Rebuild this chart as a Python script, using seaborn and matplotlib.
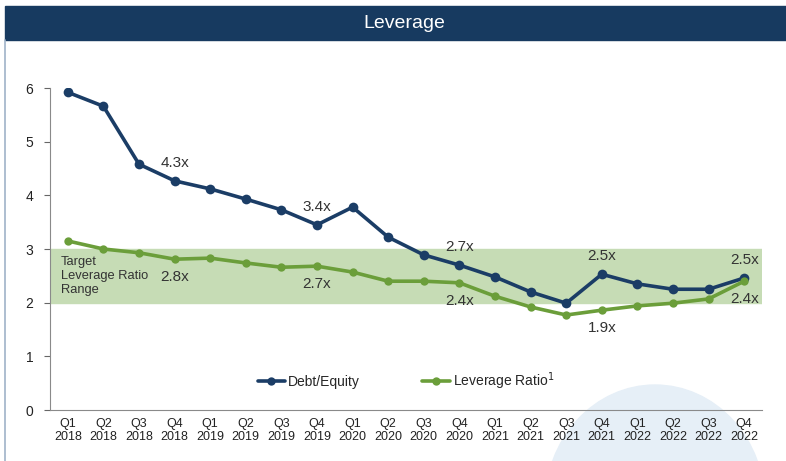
import pandas as pd
import numpy as np
import matplotlib.pyplot as plt
import seaborn as sns
from matplotlib.patches import Rectangle, Ellipse

quarters = ['Q1\n2018', 'Q2\n2018', 'Q3\n2018', 'Q4\n2018',
            'Q1\n2019', 'Q2\n2019', 'Q3\n2019', 'Q4\n2019',
            'Q1\n2020', 'Q2\n2020', 'Q3\n2020', 'Q4\n2020',
            'Q1\n2021', 'Q2\n2021', 'Q3\n2021', 'Q4\n2021',
            'Q1\n2022', 'Q2\n2022', 'Q3\n2022', 'Q4\n2022']
debt_equity = [5.92, 5.66, 4.58, 4.27, 4.12, 3.93, 3.73, 3.45, 3.78, 3.22,
               2.89, 2.70, 2.48, 2.20, 1.99, 2.53, 2.35, 2.25, 2.25, 2.46]
leverage = [3.15, 3.00, 2.93, 2.81, 2.83, 2.74, 2.66, 2.68, 2.57, 2.40,
            2.40, 2.37, 2.12, 1.92, 1.77, 1.86, 1.94, 1.99, 2.07, 2.40]
target_low, target_high = 2, 3

# labels: (index, text) above debt/equity, below leverage ratio
de_labels = [(3, '4.3x'), (7, '3.4x'), (11, '2.7x'), (15, '2.5x'), (19, '2.5x')]
lr_labels = [(3, '2.8x'), (7, '2.7x'), (11, '2.4x'), (15, '1.9x'), (19, '2.4x')]

navy = '#1b3d66'
green = '#6b9e3a'
band = '#c6dcb5'

sns.set_style('white')
plt.rcParams['font.family'] = ['Liberation Sans', 'DejaVu Sans']

fig = plt.figure(figsize=(7.86, 4.61), dpi=100)
W, H = 786, 461

# decorative background
fig.patches.append(Ellipse((655 / W, 1 - 505 / H), 220 / W, 240 / H,
                           transform=fig.transFigure, color='#e6eff7', zorder=-2))
fig.patches.append(Rectangle((5 / W, 1 - 40 / H), 1 - 5 / W, 34 / H,
                             transform=fig.transFigure, color='#173a60', zorder=1))
fig.lines.append(plt.Line2D([5 / W, 5 / W], [0, 1 - 40 / H], transform=fig.transFigure,
                            color='#9fb3c8', lw=1.2))
fig.text(404 / W, 1 - 23 / H, 'Leverage', color='white', ha='center', va='center', fontsize=14)

ax = fig.add_axes([50 / W, 1 - 410 / H, 712 / W, 322 / H])
ax.set_facecolor('none')
ax.set_zorder(2)

df = pd.DataFrame({'x': np.arange(len(quarters)), 'Debt/Equity': debt_equity,
                   'Leverage Ratio$^1$': leverage})
long = df.melt(id_vars='x', var_name='series', value_name='value')

ax.axhspan(target_low, target_high, color=band, zorder=0)
sns.lineplot(data=long, x='x', y='value', hue='series', palette=[navy, green],
             marker='o', markeredgewidth=0, linewidth=2.6, ax=ax, zorder=3)
for l, ms in zip(ax.lines, [7, 6]):
    l.set_markersize(ms)

for i, t in de_labels:
    ax.annotate(t, (i, debt_equity[i]), xytext=(0, 8), textcoords='offset points',
                ha='center', va='bottom', fontsize=11, color='#333333')
for i, t in lr_labels:
    ax.annotate(t, (i, leverage[i]), xytext=(0, -8), textcoords='offset points',
                ha='center', va='top', fontsize=11, color='#333333')

ax.text(-0.2, 2.5, 'Target\nLeverage Ratio\nRange', ha='left', va='center',
        fontsize=9.3, color='#333333', linespacing=1.25)

ax.set_xlim(-0.5, len(quarters) - 0.5)
ax.set_ylim(0, 6)
ax.set_xticks(np.arange(len(quarters)))
ax.set_xticklabels(quarters, fontsize=9, color='#222222', linespacing=1.1)
ax.set_xticks(np.arange(len(quarters) + 1) - 0.5, minor=True)
ax.tick_params(axis='x', which='major', length=0, pad=6)
ax.tick_params(axis='x', which='minor', length=4, color='#666666', direction='out')
ax.set_yticks(range(0, 7))
ax.tick_params(axis='y', length=4, color='#666666', labelsize=10, labelcolor='#222222',
               left=True, direction='out', pad=8)
for s in ['top', 'right']:
    ax.spines[s].set_visible(False)
for s in ['left', 'bottom']:
    ax.spines[s].set_color('#8a8a8a')
ax.set_xlabel('')
ax.set_ylabel('')

ax.legend(loc='center', bbox_to_anchor=(0.5, 0.09), ncol=2, frameon=False,
          fontsize=10, handlelength=2.0, handletextpad=0.2, columnspacing=4.5)

fig.savefig('out.png', dpi=100)
